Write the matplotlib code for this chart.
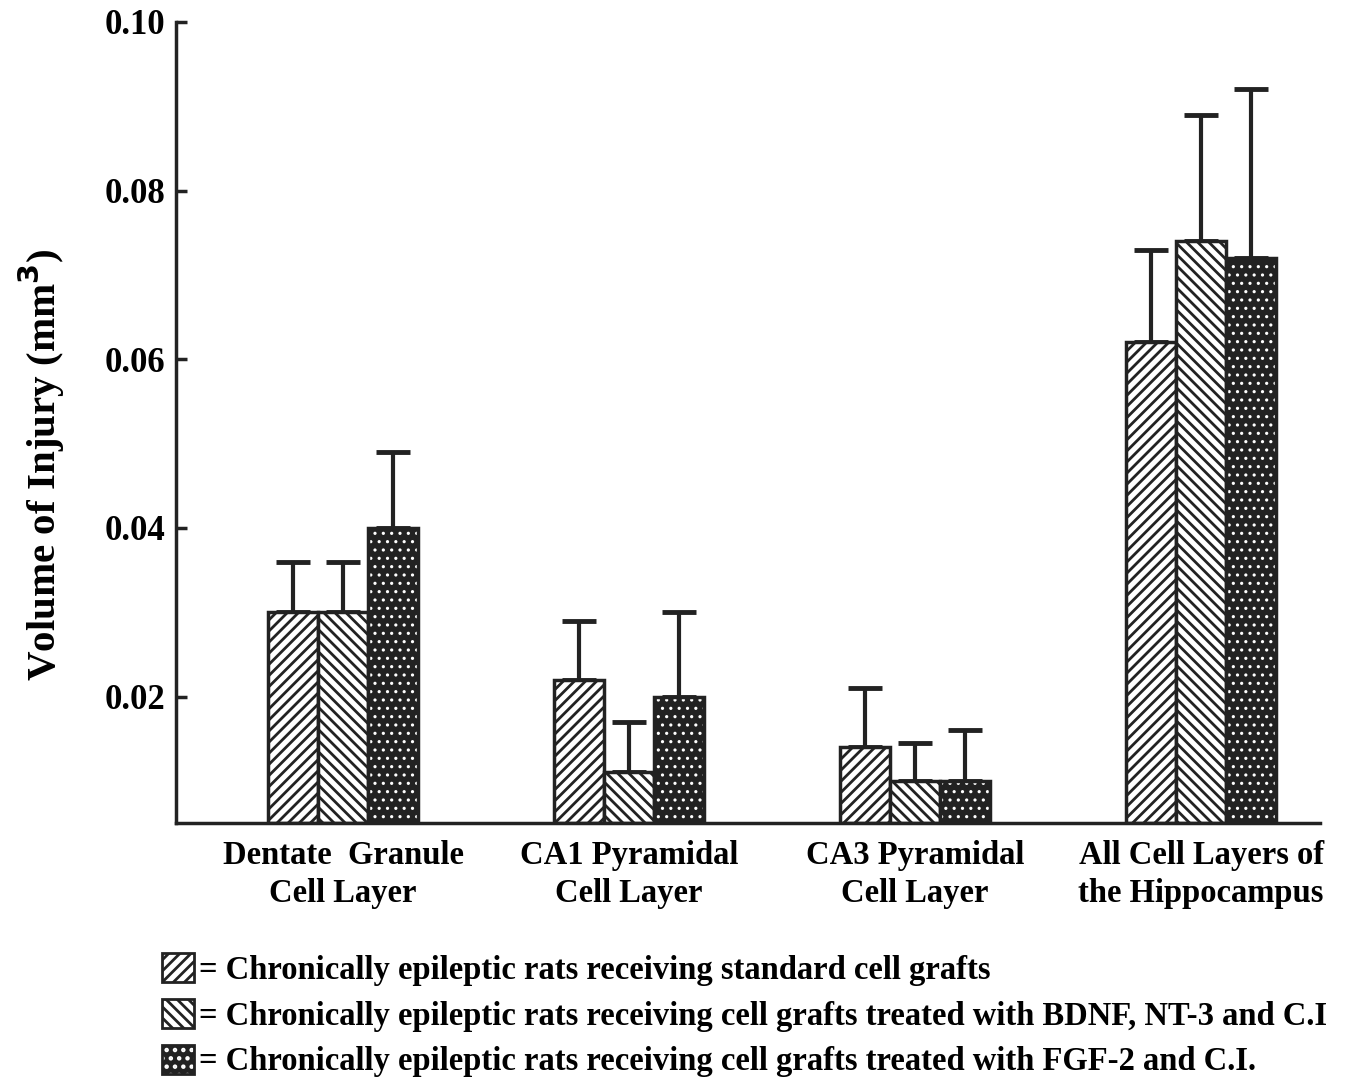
import numpy as np
import matplotlib
matplotlib.use('Agg')
import matplotlib.pyplot as plt
from matplotlib.patches import Patch
from matplotlib.legend_handler import HandlerTuple

# ---------------------------------------------------------------------
categories = ['Dentate  Granule\nCell Layer', 'CA1 Pyramidal\nCell Layer',
              'CA3 Pyramidal\nCell Layer', 'All Cell Layers of\nthe Hippocampus']
standard = [0.030, 0.022, 0.014, 0.062]
standard_top = [0.036, 0.029, 0.021, 0.073]
bdnf = [0.030, 0.011, 0.010, 0.074]
bdnf_top = [0.036, 0.017, 0.0145, 0.089]
fgf = [0.040, 0.020, 0.010, 0.072]
fgf_top = [0.049, 0.030, 0.016, 0.092]
legend_labels = ['= Chronically epileptic rats receiving standard cell grafts',
                 '= Chronically epileptic rats receiving cell grafts treated with BDNF, NT-3 and C.I',
                 '= Chronically epileptic rats receiving cell grafts treated with FGF-2 and C.I.']
yticks = [0.02, 0.04, 0.06, 0.08, 0.10]

plt.rcParams['font.family'] = ['Liberation Serif', 'DejaVu Serif']
plt.rcParams['font.weight'] = 'bold'
plt.rcParams['hatch.linewidth'] = 2.0

INK = '#222222'
YMIN = 0.005

fig = plt.figure(figsize=(13.47, 10.78), dpi=100)
ax = fig.add_axes((0.1307, 0.2365, 0.8493, 0.7431))

x = np.arange(len(categories))
w = 0.175

def draw_err(xs, vals, tops):
    ax.errorbar(xs, vals, yerr=[np.zeros(len(vals)), np.array(tops) - np.array(vals)],
                fmt='none', ecolor=INK, elinewidth=3, capsize=12, capthick=3.5, zorder=1)

# standard grafts: ////
draw_err(x - w, standard, standard_top)
ax.bar(x - w, np.array(standard) - YMIN, w, bottom=YMIN, facecolor='white',
       edgecolor=INK, hatch='///', linewidth=2.5, zorder=2)
# BDNF: \\\\
draw_err(x, bdnf, bdnf_top)
ax.bar(x, np.array(bdnf) - YMIN, w, bottom=YMIN, facecolor='white',
       edgecolor=INK, hatch='\\\\\\', linewidth=2.5, zorder=2)
# FGF-2: small white dots on dark fill
draw_err(x + w, fgf, fgf_top)
with plt.rc_context({'hatch.linewidth': 1.1}):
    ax.bar(x + w, np.array(fgf) - YMIN, w, bottom=YMIN, facecolor=INK,
           edgecolor='white', hatch='..', linewidth=0, zorder=2)
    h3_fill = Patch(facecolor=INK, edgecolor='white', hatch='..', linewidth=0)
ax.bar(x + w, np.array(fgf) - YMIN, w, bottom=YMIN, facecolor='none',
       edgecolor=INK, linewidth=2.5, zorder=3)

ax.set_xlim(-0.584, 3.416)
ax.set_ylim(YMIN, 0.10)
ax.set_yticks(yticks)
ax.set_yticklabels([f'{t:.2f}' for t in yticks], fontsize=25, fontweight='bold')
ax.tick_params(axis='y', direction='in', length=8, width=2.5, color=INK, pad=8)
ax.set_xticks(x)
ax.set_xticklabels(categories, fontsize=23.5, fontweight='bold', linespacing=1.3)
ax.tick_params(axis='x', length=0, pad=12)
for s in ('top', 'right'):
    ax.spines[s].set_visible(False)
for s in ('left', 'bottom'):
    ax.spines[s].set_linewidth(2.5)
    ax.spines[s].set_color(INK)
ax.set_ylabel('Volume of Injury (mm$^\\mathbf{3}$)', fontsize=29.5, fontweight='bold')
ax.yaxis.set_label_coords(-0.095, 0.447)

# ---------- legend
h1 = Patch(facecolor='white', edgecolor=INK, hatch='///', linewidth=2)
h2 = Patch(facecolor='white', edgecolor=INK, hatch='\\\\\\', linewidth=2)
h3 = (h3_fill, Patch(facecolor='none', edgecolor=INK, linewidth=2))
fig.legend([h1, h2, h3], legend_labels, handler_map={tuple: HandlerTuple(ndivide=1)},
           loc='upper left', bbox_to_anchor=(0.12, 0.116), frameon=False,
           prop={'size': 23.5, 'weight': 'bold'}, handlelength=1.0, handleheight=1.0,
           handletextpad=0.15, labelspacing=0.4, borderpad=0, borderaxespad=0)

fig.savefig('out.png', dpi=100)
